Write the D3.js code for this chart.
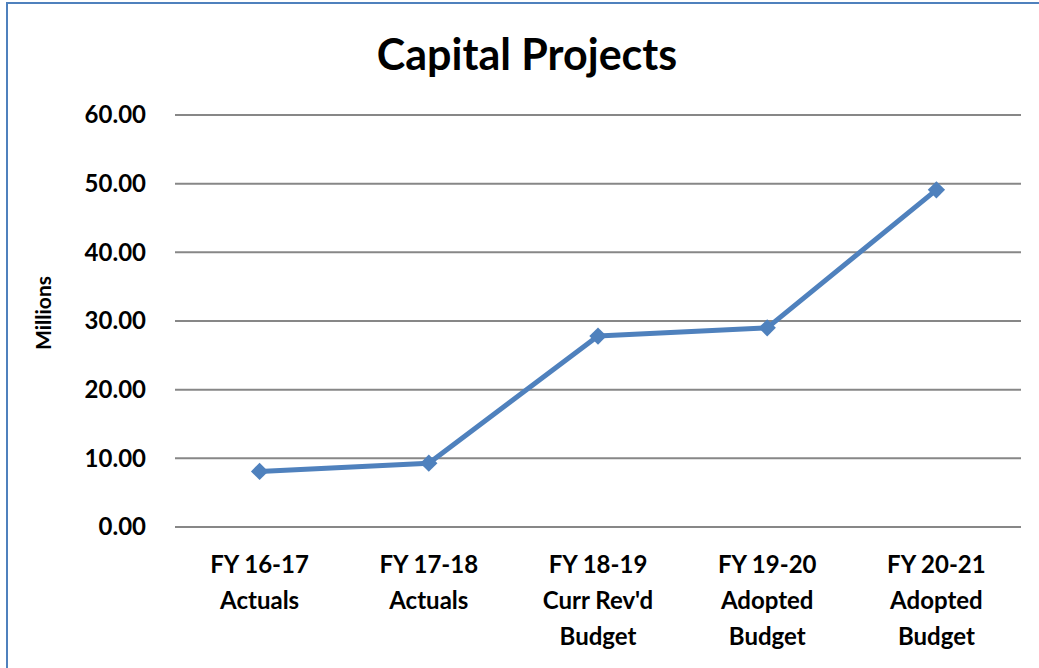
<!DOCTYPE html>
<html>
<head>
<meta charset="utf-8">
<script src="https://cdn.jsdelivr.net/npm/d3@7"></script>
<style>
  body { margin: 0; background: #fff; }
  text { font-family: Lato, "Open Sans", sans-serif; font-weight: bold; fill: #000; }
</style>
</head>
<body>
<div id="chart"></div>
<script>
// chart data
var categories = [
  ["FY 16-17", "Actuals"],
  ["FY 17-18", "Actuals"],
  ["FY 18-19", "Curr Rev'd", "Budget"],
  ["FY 19-20", "Adopted", "Budget"],
  ["FY 20-21", "Adopted", "Budget"]
];
var values = [8.1, 9.3, 27.8, 29.0, 49.1];
var yTicks = [0, 10, 20, 30, 40, 50, 60];

var svgWidth = 1039;
var svgHeight = 668;

var margin = { top: 115, right: 18, bottom: 141, left: 175 };
var width = svgWidth - margin.left - margin.right;
var height = svgHeight - margin.top - margin.bottom;

var svg = d3.select("#chart")
  .append("svg")
  .attr("width", svgWidth)
  .attr("height", svgHeight);

// outer border (runs off right/bottom)
svg.append("rect")
  .attr("x", 7)
  .attr("y", 3)
  .attr("width", svgWidth + 20)
  .attr("height", svgHeight + 20)
  .attr("fill", "none")
  .attr("stroke", "#4F81BD")
  .attr("stroke-width", 2);

svg.append("text")
  .attr("x", 527)
  .attr("y", 70)
  .attr("text-anchor", "middle")
  .attr("font-size", "43px")
  .text("Capital Projects");

var chartGroup = svg.append("g")
  .attr("transform", `translate(${margin.left}, ${margin.top})`);

var xScale = d3.scaleBand()
  .domain(d3.range(categories.length))
  .range([0, width]);

var yScale = d3.scaleLinear()
  .domain([0, 60])
  .range([height, 0]);

// gridlines
chartGroup.selectAll(".grid")
  .data(yTicks)
  .enter()
  .append("line")
  .attr("x1", 0)
  .attr("x2", width)
  .attr("y1", d => yScale(d))
  .attr("y2", d => yScale(d))
  .attr("stroke", "#878787")
  .attr("stroke-width", 2);

// y tick labels
chartGroup.selectAll(".ytick")
  .data(yTicks)
  .enter()
  .append("text")
  .attr("x", -29)
  .attr("y", d => yScale(d))
  .attr("dy", "0.35em")
  .attr("text-anchor", "end")
  .attr("font-size", "24px")
  .text(d => d.toFixed(2));

// x labels
var xLabels = chartGroup.selectAll(".xlabel")
  .data(categories)
  .enter()
  .append("text")
  .attr("text-anchor", "middle")
  .attr("font-size", "24px")
  .attr("transform", (d, i) => `translate(${xScale(i) + xScale.bandwidth() / 2}, ${height + 46})`);

xLabels.selectAll("tspan")
  .data(d => d)
  .enter()
  .append("tspan")
  .attr("x", 0)
  .attr("y", (d, i) => i * 36)
  .text(d => d);

// y axis title
chartGroup.append("text")
  .attr("transform", "rotate(-90)")
  .attr("x", -(yScale(30) - 8))
  .attr("y", -124)
  .attr("text-anchor", "middle")
  .attr("font-size", "21px")
  .text("Millions");

// line
var line = d3.line()
  .x((d, i) => xScale(i) + xScale.bandwidth() / 2)
  .y(d => yScale(d));

chartGroup.append("path")
  .datum(values)
  .attr("d", line)
  .attr("fill", "none")
  .attr("stroke", "#4F81BD")
  .attr("stroke-width", 5)
  .attr("stroke-linejoin", "round");

// diamond markers (square turned 45deg)
chartGroup.selectAll(".marker")
  .data(values)
  .enter()
  .append("path")
  .attr("d", d3.symbol().type(d3.symbolSquare).size(150))
  .attr("transform", (d, i) => `translate(${xScale(i) + xScale.bandwidth() / 2}, ${yScale(d)}) rotate(45)`)
  .attr("fill", "#4F81BD");
</script>
</body>
</html>
